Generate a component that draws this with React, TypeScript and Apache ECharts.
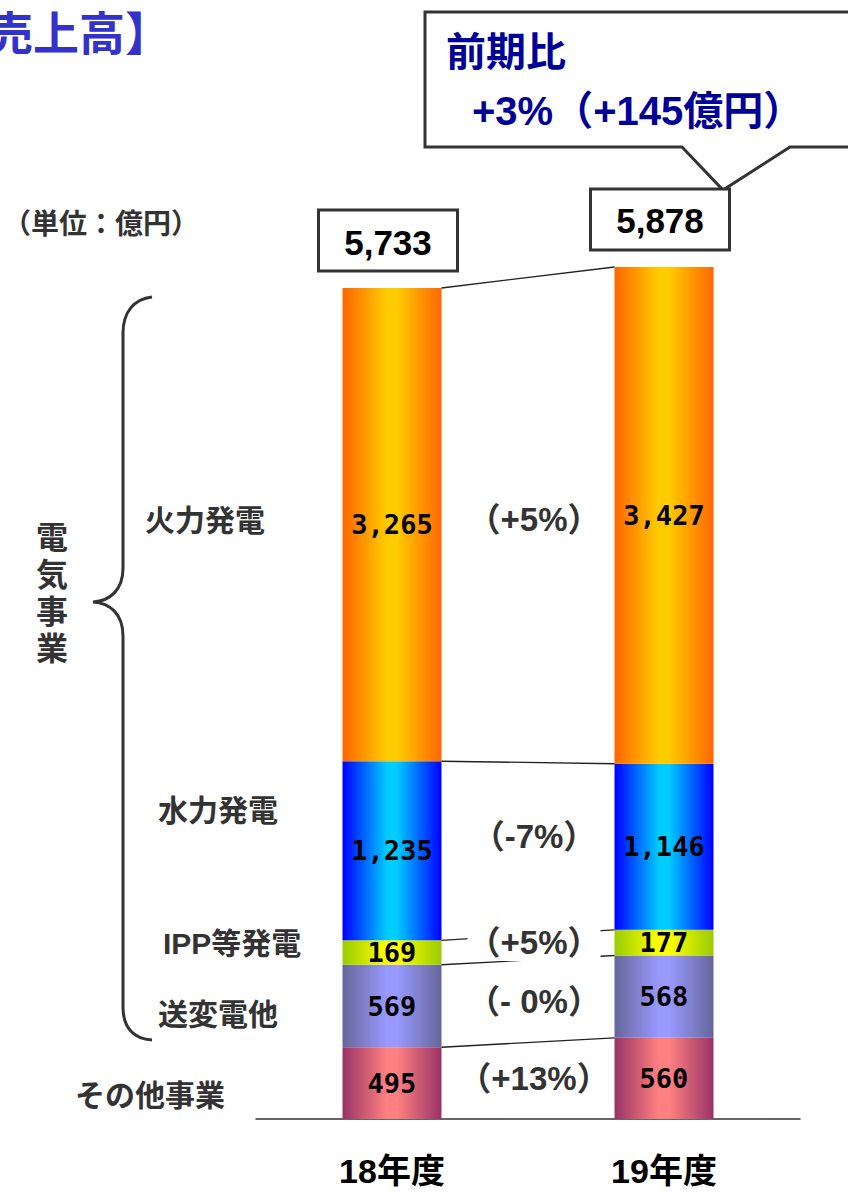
import React, { useEffect, useRef } from "react";
import * as echarts from "echarts";

// ---- data ----
const categories = ["18年度", "19年度"];
const segmentNames = ["その他事業", "送変電他", "IPP等発電", "水力発電", "火力発電"];
const fy18 = [495, 569, 169, 1235, 3265];
const fy19 = [560, 568, 177, 1146, 3427];
const totals = [5733, 5878];
const changeLabels = ["（+13%）", "（- 0%）", "（+5%）", "（-7%）", "（+5%）"];
const calloutLines = ["前期比", "+3%（+145億円）"];
const titleText = "【売上高】";
const unitText = "（単位：億円）";
const groupLabel = "電気事業";

// ---- styles ----
const SANS = "'Liberation Sans', 'Noto Sans CJK JP', sans-serif";
const CJK = "'Noto Sans CJK JP', sans-serif";
const MONO = "'DejaVu Sans Mono', monospace";
const BAR_W = 99;
const gradStops: [string, string][] = [
  ["#993366", "#FF8080"],
  ["#666699", "#9999FF"],
  ["#99CC00", "#FFFF00"],
  ["#0000FF", "#00CCFF"],
  ["#FF6600", "#FFCC00"],
];
// left-hand label anchor positions (left x, center y)
const labelPos: [number, number][] = [
  [75, 1095],
  [158, 1014],
  [163, 943],
  [158, 810],
  [145, 520],
];
// small vertical nudges for the change labels
const changeNudge = [-2, 0, -5, -12, 0];

const fmt = (v: number) => v.toLocaleString("en-US");

function cumulative(arr: number[]) {
  const out: number[] = [];
  let s = 0;
  for (const v of arr) {
    s += v;
    out.push(s);
  }
  return out;
}

export default function App() {
  const ref = useRef<HTMLDivElement>(null);
  useEffect(() => {
    if (!ref.current) return;
    echarts.graphic.registerShape(
      "brace",
      echarts.graphic.extendPath(
        "M152,297 C134,299 123,312 123,333 L123,568 C123,590 110,601 93,602 C110,603 123,614 123,636 L123,1007 C123,1028 134,1039 152,1040",
        {}
      )
    );
    const chart = echarts.init(ref.current, undefined, { renderer: "svg" });
    const c18 = cumulative(fy18);
    const c19 = cumulative(fy19);

    const barSeries = segmentNames.map((name, i) => ({
      type: "bar",
      name,
      stack: "total",
      barWidth: BAR_W,
      z: 2,
      data: [fy18[i], fy19[i]],
      itemStyle: {
        color: new echarts.graphic.LinearGradient(0, 0, 1, 0, [
          { offset: 0, color: gradStops[i][0] },
          { offset: 0.45, color: gradStops[i][1] },
          { offset: 0.55, color: gradStops[i][1] },
          { offset: 1, color: gradStops[i][0] },
        ]),
      },
      label: {
        show: true,
        position: "inside",
        formatter: (p: any) => fmt(p.value),
        fontFamily: MONO,
        fontWeight: "bold",
        fontSize: 27,
        color: "#000",
      },
    }));

    const connectorSeries = {
      type: "custom",
      z: 3,
      coordinateSystem: "cartesian2d",
      encode: { x: 0, y: 1 },
      data: c18.map((v, k) => [0, v, 1, c19[k]]),
      renderItem: (params: any, api: any) => {
        const p0 = api.coord([api.value(0), api.value(1)]);
        const p1 = api.coord([api.value(2), api.value(3)]);
        return {
          type: "line",
          shape: { x1: p0[0] + BAR_W / 2, y1: p0[1], x2: p1[0] - BAR_W / 2, y2: p1[1] },
          style: { stroke: "#222", lineWidth: 1.3 },
        };
      },
    };

    const changeSeries = {
      type: "custom",
      z: 4,
      coordinateSystem: "cartesian2d",
      encode: { x: 0, y: 1 },
      data: fy18.map((v, k) => [0, c18[k] - v / 2, 1, c19[k] - fy19[k] / 2, k]),
      renderItem: (params: any, api: any) => {
        const p0 = api.coord([api.value(0), api.value(1)]);
        const p1 = api.coord([api.value(2), api.value(3)]);
        const k = api.value(4);
        return {
          type: "text",
          x: (p0[0] + p1[0]) / 2 + 6,
          y: (p0[1] + p1[1]) / 2 + changeNudge[k],
          style: {
            text: changeLabels[k],
            fontFamily: SANS,
            fontWeight: "bold",
            fontSize: 33,
            fill: "#333",
            align: "center",
            verticalAlign: "middle",
            backgroundColor: "#fff",
            padding: [2, 0],
          },
        };
      },
    };

    const totalSeries = {
      type: "custom",
      z: 4,
      coordinateSystem: "cartesian2d",
      encode: { x: 0, y: 1 },
      data: totals.map((t, i) => [i, t]),
      renderItem: (params: any, api: any) => {
        const p = api.coord([api.value(0), api.value(1)]);
        const cx = p[0] - 4;
        const bottom = p[1] - 17;
        return {
          type: "group",
          children: [
            {
              type: "rect",
              shape: { x: cx - 69.5, y: bottom - 61, width: 139, height: 61 },
              style: { fill: "#fff", stroke: "#333", lineWidth: 3 },
            },
            {
              type: "text",
              x: cx,
              y: bottom - 29,
              style: {
                text: fmt(api.value(1)),
                fontFamily: SANS,
                fontWeight: "bold",
                fontSize: 35,
                fill: "#000",
                align: "center",
                verticalAlign: "middle",
              },
            },
          ],
        };
      },
    };

    const graphics: any[] = [
      {
        type: "text",
        x: -59,
        y: 30,
        style: {
          text: titleText,
          fontFamily: CJK,
          fontWeight: "bold",
          fontSize: 46,
          fill: "#3333CC",
          verticalAlign: "middle",
        },
      },
      {
        type: "text",
        x: 3,
        y: 222,
        style: {
          text: unitText,
          fontFamily: CJK,
          fontWeight: "bold",
          fontSize: 28,
          fill: "#333",
          verticalAlign: "middle",
        },
      },
      {
        type: "polygon",
        shape: {
          points: [
            [425, 12],
            [870, 12],
            [870, 147],
            [790, 147],
            [723, 190],
            [682, 147],
            [425, 147],
          ],
        },
        style: { fill: "#fff", stroke: "#333", lineWidth: 3 },
      },
      {
        type: "text",
        x: 446,
        y: 52,
        style: {
          text: calloutLines[0],
          fontFamily: SANS,
          fontWeight: "bold",
          fontSize: 40,
          fill: "#000099",
          verticalAlign: "middle",
        },
      },
      {
        type: "text",
        x: 472,
        y: 111,
        style: {
          text: calloutLines[1],
          fontFamily: SANS,
          fontWeight: "bold",
          fontSize: 40,
          fill: "#000099",
          verticalAlign: "middle",
        },
      },
      {
        type: "brace",
        x: 0,
        y: 0,
        style: { fill: "none", stroke: "#333", lineWidth: 3 },
      },
      {
        type: "text",
        x: 52,
        y: 593,
        style: {
          text: groupLabel.split("").join("\n"),
          fontFamily: SANS,
          fontWeight: "bold",
          fontSize: 32,
          lineHeight: 37,
          fill: "#333",
          align: "center",
          verticalAlign: "middle",
        },
      },
      ...segmentNames.map((n, i) => ({
        type: "text",
        x: labelPos[i][0],
        y: labelPos[i][1],
        style: {
          text: n,
          fontFamily: SANS,
          fontWeight: "bold",
          fontSize: 30,
          fill: "#333",
          verticalAlign: "middle",
        },
      })),
    ];

    chart.setOption({
      animation: false,
      backgroundColor: "#fff",
      grid: { left: 256, right: 48, top: 249.3, bottom: 73, containLabel: false },
      xAxis: {
        type: "category",
        data: categories,
        axisLine: { show: true, lineStyle: { color: "#333", width: 1.5 } },
        axisTick: { show: false },
        axisLabel: {
          margin: 34,
          fontFamily: SANS,
          fontWeight: "bold",
          fontSize: 34,
          lineHeight: 36,
          color: "#000",
        },
      },
      yAxis: {
        type: "value",
        min: 0,
        max: 6000,
        show: false,
        splitLine: { show: false },
      },
      series: [...barSeries, connectorSeries, changeSeries, totalSeries],
      graphic: graphics,
    });
    return () => chart.dispose();
  }, []);
  return (
    <div
      ref={ref}
      style={{ position: "absolute", left: 0, top: 0, width: 848, height: 1192 }}
    />
  );
}
